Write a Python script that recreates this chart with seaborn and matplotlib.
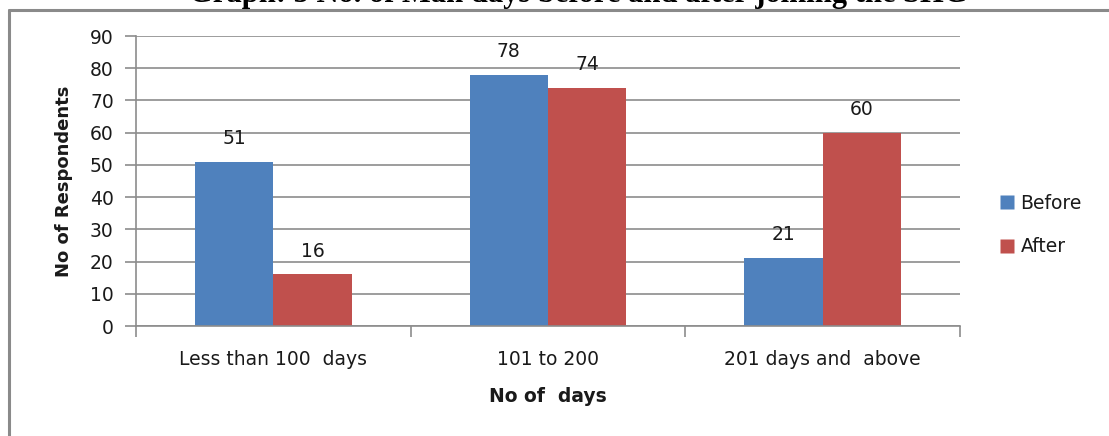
import matplotlib
matplotlib.use("Agg")
import matplotlib.pyplot as plt
import seaborn as sns
import pandas as pd
from matplotlib.lines import Line2D

# Data
categories = ["Less than 100  days", "101 to 200", "201 days and  above"]
before = [51, 78, 21]
after = [16, 74, 60]
series_names = ["Before", "After"]
colors = ["#4F81BD", "#C0504D"]
y_ticks = [0, 10, 20, 30, 40, 50, 60, 70, 80, 90]

df = pd.DataFrame({
    "category": categories * 2,
    "series": [series_names[0]] * 3 + [series_names[1]] * 3,
    "value": before + after,
})

sns.set_theme(style="white")
plt.rcParams["font.family"] = ["DejaVu Sans"]

FS = 13.5
TXT = "#1a1a1a"
W, H = 1109, 436
fig = plt.figure(figsize=(W / 100, H / 100), dpi=100)
ax = fig.add_axes([136 / W, 1 - 326 / H, (960 - 136) / W, (326 - 36) / H])

sns.barplot(data=df, x="category", y="value", hue="series",
            palette=colors, width=0.57, saturation=1, ax=ax,
            legend=False, edgecolor="none", linewidth=0)

grid_color = "#8C8C8C"
ax.set_ylim(0, 90)
ax.set_xlim(-0.5, 2.5)
ax.set_yticks(y_ticks)
ax.yaxis.grid(True, color=grid_color, linewidth=1.2)
ax.set_axisbelow(True)

for side in ["top", "right"]:
    ax.spines[side].set_visible(False)
for side in ["left", "bottom"]:
    ax.spines[side].set_color(grid_color)
    ax.spines[side].set_linewidth(1.2)

ax.tick_params(axis="y", which="major", left=True, length=8, width=1.2,
               color=grid_color, labelsize=FS, labelcolor=TXT, pad=8)
ax.tick_params(axis="x", which="major", length=0, labelsize=FS,
               labelcolor=TXT, pad=17)
ax.set_xticks([-0.5, 0.5, 1.5, 2.5], minor=True)
ax.tick_params(axis="x", which="minor", bottom=True, length=8, width=1.2,
               color=grid_color)

ax.set_xlabel("No of  days", fontsize=FS, fontweight="bold",
              color=TXT, labelpad=13)
ax.set_ylabel("No of Respondents", fontsize=13, fontweight="bold",
              color=TXT, labelpad=12)

# Value labels above each bar
for container in ax.containers:
    ax.bar_label(container, padding=10, fontsize=FS, color=TXT)

# Legend on the right
handles = [Line2D([0], [0], marker="s", linestyle="none", markersize=10,
                  markerfacecolor=c, markeredgecolor="none") for c in colors]
fig.legend(handles, series_names, loc="center left",
           bbox_to_anchor=(982 / W, 1 - 225 / H), frameon=False,
           fontsize=FS, labelspacing=1.3, handletextpad=0.25,
           handlelength=0.9, labelcolor=TXT)

# Outer frame (continues past the right and bottom edges)
frame_color = "#8A8A8A"
fig.add_artist(Line2D([9 / W, 1.01], [1 - 10 / H, 1 - 10 / H],
                      transform=fig.transFigure, color=frame_color, linewidth=2.2))
fig.add_artist(Line2D([9 / W, 9 / W], [1 - 10 / H, -0.01],
                      transform=fig.transFigure, color=frame_color, linewidth=2.2))

# Heading, partly above the top edge
fig.text(578 / W, 1 - 2 / H,
         "Graph: 5 No. of Man days before and after joining the SHG",
         ha="center", va="baseline", fontsize=22, fontweight="bold",
         family=["Liberation Serif", "DejaVu Serif"], color="black")

fig.savefig("out.png", dpi=100)
